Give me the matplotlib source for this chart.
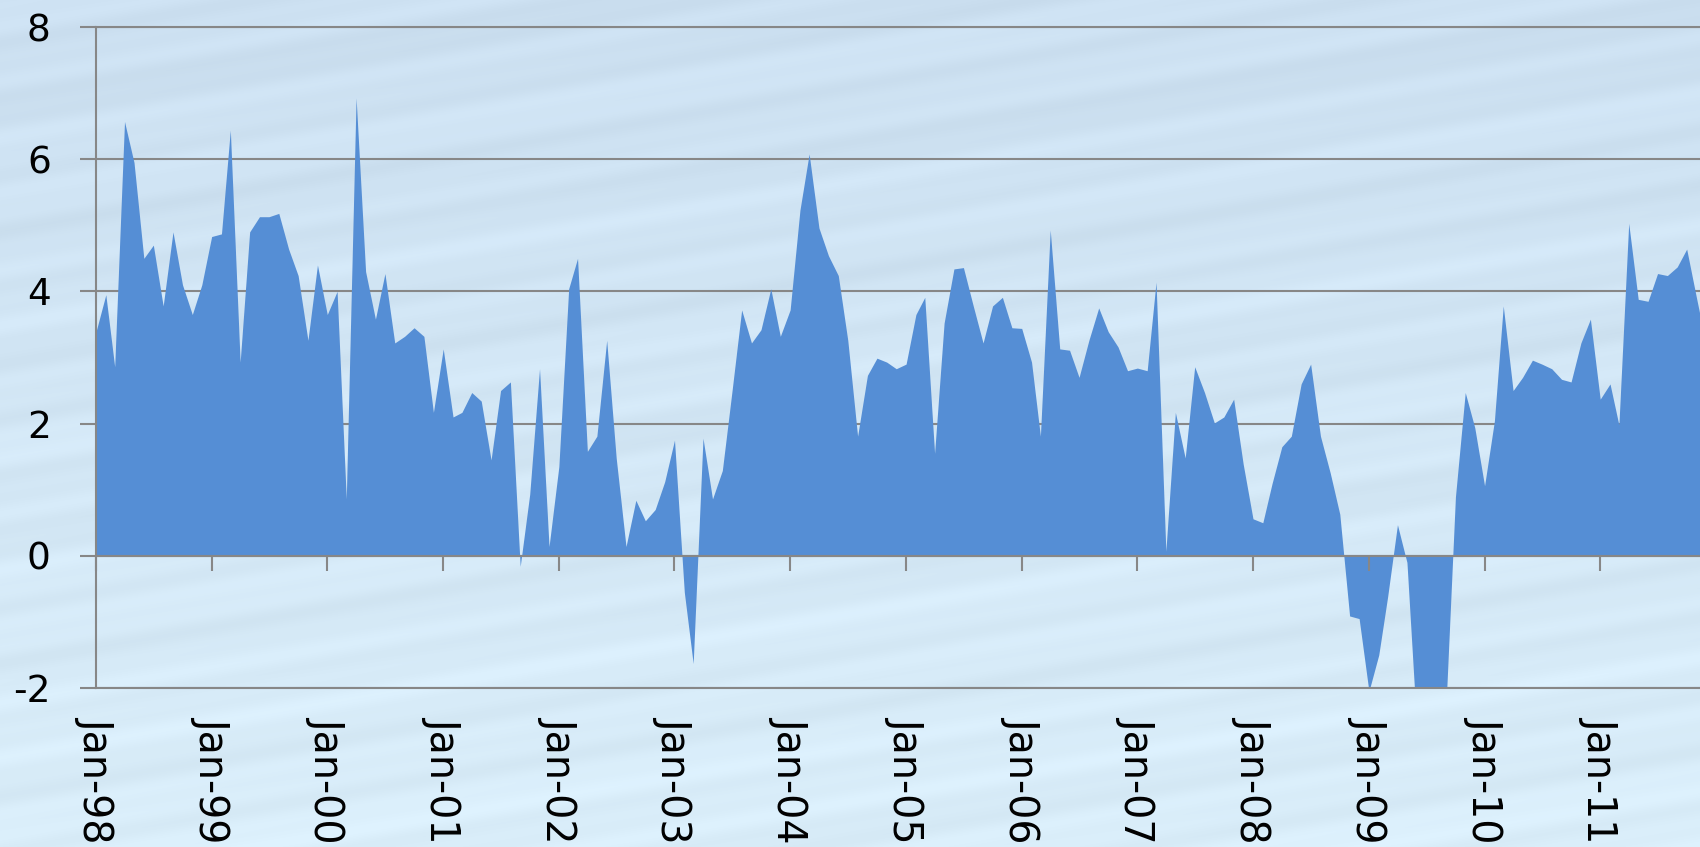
import numpy as np
import pandas as pd
import matplotlib
matplotlib.use("Agg")
import matplotlib.pyplot as plt

# monthly values, Jan-98 onwards (values below -2 are clipped by the axis)
start_month = "1998-01-01"
values = [
    3.39, 3.95, 2.86, 6.57, 5.95, 4.50, 4.70, 3.78, 4.90, 4.10, 3.65, 4.10,   # 1998
    4.83, 4.87, 6.44, 2.93, 4.90, 5.13, 5.13, 5.18, 4.64, 4.24, 3.26, 4.40,   # 1999
    3.65, 4.00, 0.86, 6.93, 4.30, 3.58, 4.27, 3.22, 3.32, 3.45, 3.32, 2.17,   # 2000
    3.13, 2.10, 2.17, 2.47, 2.34, 1.45, 2.50, 2.63, -0.16, 0.93, 2.83, 0.14,  # 2001
    1.35, 4.04, 4.50, 1.58, 1.81, 3.26, 1.48, 0.14, 0.84, 0.53, 0.70, 1.12,   # 2002
    1.75, -0.55, -1.63, 1.78, 0.86, 1.29, 2.47, 3.72, 3.22, 3.42, 4.04, 3.32, # 2003
    3.72, 5.23, 6.08, 4.96, 4.54, 4.24, 3.26, 1.81, 2.73, 2.99, 2.93, 2.83,   # 2004
    2.90, 3.65, 3.91, 1.55, 3.52, 4.34, 4.36, 3.78, 3.22, 3.78, 3.91, 3.45,   # 2005
    3.44, 2.93, 1.81, 4.93, 3.13, 3.11, 2.70, 3.26, 3.75, 3.39, 3.16, 2.80,   # 2006
    2.84, 2.80, 4.14, 0.07, 2.17, 1.48, 2.86, 2.47, 2.01, 2.10, 2.37, 1.39,   # 2007
    0.56, 0.50, 1.09, 1.65, 1.81, 2.60, 2.90, 1.81, 1.25, 0.63, -0.91, -0.95, # 2008
    -2.05, -1.50, -0.62, 0.47, -0.10, -2.60, -3.10, -2.90, -2.30, 0.89, 2.47, 1.94,  # 2009
    1.06, 2.04, 3.78, 2.50, 2.70, 2.96, 2.90, 2.83, 2.67, 2.63, 3.22, 3.58,   # 2010
    2.37, 2.60, 1.98, 5.03, 3.88, 3.85, 4.27, 4.24, 4.37, 4.64, 3.90, 3.20,   # 2011
]
dates = pd.date_range(start_month, periods=len(values), freq="MS")
tick_dates = pd.date_range("1998-01-01", "2011-01-01", freq="YS")
tick_labels = [d.strftime("%b-%y") for d in tick_dates]
y_ticks = [-2, 0, 2, 4, 6, 8]

area_color = "#558ED5"
grid_color = "#878787"

W, H = 1700, 847
fig = plt.figure(figsize=(W / 100, H / 100), dpi=100)

# light blue streaky backdrop (decoration only)
yy, xx = np.mgrid[0:H, 0:W].astype(float)
t = yy + 0.17 * xx
streak = (0.5 * np.sin(2 * np.pi * t / 62.0)
          + 0.3 * np.sin(2 * np.pi * t / 27.0 + 1.3)
          + 0.25 * np.sin(2 * np.pi * (t - 0.05 * xx) / 140.0 + 0.4))
shade = yy / H
base = np.array([208, 228, 244]) / 255.0
top_tint = np.array([-4, -4, -3]) / 255.0
bot_tint = np.array([10, 10, 6]) / 255.0
tex = (base[None, None, :]
       + (1 - shade)[..., None] * top_tint + shade[..., None] * bot_tint
       + 0.022 * streak[..., None])
tex = np.clip(tex, 0, 1)
bg = fig.add_axes([0, 0, 1, 1], zorder=-10)
bg.imshow(tex, aspect="auto", interpolation="bilinear")
bg.axis("off")

left_px, top_px, bottom_px = 96, 27, 688
ax = fig.add_axes([left_px / W, (H - bottom_px) / H,
                   1 - left_px / W, (bottom_px - top_px) / H])
ax.patch.set_visible(False)

ax.fill_between(dates, values, 0, color=area_color, lw=0, zorder=2)

ax.set_ylim(-2, 8)
ax.set_xlim(pd.Timestamp("1998-01-01"), pd.Timestamp("2011-11-12"))
ax.set_yticks(y_ticks)
ax.set_yticklabels([str(v) for v in y_ticks])
ax.grid(axis="y", color=grid_color, lw=1.5)
ax.set_axisbelow(True)

ax.spines["right"].set_visible(False)
for side in ["left", "top", "bottom"]:
    ax.spines[side].set_color(grid_color)
    ax.spines[side].set_linewidth(1.5)

ax.tick_params(axis="y", length=11.5, width=1.5, color=grid_color,
               pad=21, labelsize=27, labelcolor="black")

# date labels along the bottom
ax.set_xticks(tick_dates)
ax.set_xticklabels(tick_labels)
ax.tick_params(axis="x", length=0, pad=20, labelsize=28.5,
               labelrotation=270, labelcolor="black")

# horizontal axis line crosses at zero
zero_loc = (0 - (-2)) / (8 - (-2))
sec = ax.secondary_xaxis(zero_loc)
sec.set_xticks(tick_dates)
sec.tick_params(axis="x", length=11, width=1.5, color=grid_color,
                direction="out", labelbottom=False, labeltop=False)
sec.spines["bottom"].set_color(grid_color)
sec.spines["bottom"].set_linewidth(1.5)
sec.set_zorder(5)

fig.savefig("out.png", dpi=100)
